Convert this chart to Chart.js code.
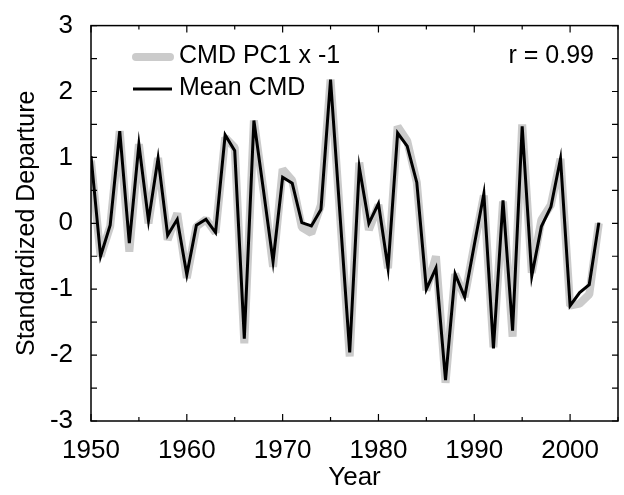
<!DOCTYPE html>
<html>
<head>
<meta charset="utf-8">
<script src="https://cdn.jsdelivr.net/npm/chart.js@4.4.1/dist/chart.umd.min.js"></script>
<style>
    html, body { margin: 0; padding: 0; background: #fff; }
    #wrap { width: 624px; height: 495px; }
</style>
</head>
<body>
<div id="wrap"><canvas id="grafico"></canvas></div>
<script>
const years = [1950, 1951, 1952, 1953, 1954, 1955, 1956, 1957, 1958, 1959,
               1960, 1961, 1962, 1963, 1964, 1965, 1966, 1967, 1968, 1969,
               1970, 1971, 1972, 1973, 1974, 1975, 1976, 1977, 1978, 1979,
               1980, 1981, 1982, 1983, 1984, 1985, 1986, 1987, 1988, 1989,
               1990, 1991, 1992, 1993, 1994, 1995, 1996, 1997, 1998, 1999,
               2000, 2001, 2002, 2003];

const meanCMD = [1.02, -0.50, -0.03, 1.40, -0.30, 1.20, 0.04, 0.99, -0.18, 0.06,
                 -0.78, -0.03, 0.06, -0.14, 1.34, 1.10, -1.75, 1.56, 0.50, -0.58,
                 0.70, 0.61, 0.01, -0.04, 0.21, 2.18, 0.10, -1.96, 0.85, 0.00,
                 0.30, -0.68, 1.37, 1.17, 0.62, -1.00, -0.68, -2.38, -0.77, -1.12,
                 -0.33, 0.45, -1.90, 0.35, -1.63, 1.47, -0.80, -0.05, 0.25, 0.98,
                 -1.25, -1.05, -0.93, 0.01];

const pc1x1 = [0.95, -0.50, -0.05, 1.40, -0.43, 1.20, 0.00, 0.99, -0.25, 0.15,
               -0.83, -0.05, 0.06, -0.14, 1.30, 1.15, -1.82, 1.56, 0.50, -0.66,
               0.82, 0.65, -0.06, -0.15, 0.28, 2.18, 0.10, -2.02, 0.92, -0.10,
               0.28, -0.68, 1.47, 1.25, 0.62, -1.02, -0.50, -2.42, -0.77, -1.12,
               -0.33, 0.42, -1.88, 0.33, -1.72, 1.50, -0.75, 0.05, 0.28, 0.98,
               -1.25, -1.22, -1.08, 0.00];

const xLabels = [1950, 1960, 1970, 1980, 1990, 2000];
const yLabels = [-3, -2, -1, 0, 1, 2, 3];

const fonte = "'Liberation Sans', Arial, sans-serif";

// ticks pointing inward on all four sides, plus the closing frame
const moldura = {
    id: 'moldura',
    afterDraw(chart) {
        const ctx = chart.ctx;
        const a = chart.chartArea;
        const sx = chart.scales.x;
        const sy = chart.scales.y;
        ctx.save();
        ctx.strokeStyle = '#000';
        ctx.lineWidth = 1.5;
        ctx.strokeRect(a.left, a.top, a.right - a.left, a.bottom - a.top);
        ctx.lineWidth = 1.2;
        ctx.beginPath();
        sy.ticks.forEach(t => {
            const y = sy.getPixelForValue(t.value);
            ctx.moveTo(a.left, y); ctx.lineTo(a.left + 6, y);
            ctx.moveTo(a.right, y); ctx.lineTo(a.right - 6, y);
        });
        sx.ticks.forEach(t => {
            const x = sx.getPixelForValue(t.value);
            const len = xLabels.includes(t.value) ? 7 : 4;
            ctx.moveTo(x, a.bottom); ctx.lineTo(x, a.bottom - len);
            ctx.moveTo(x, a.top); ctx.lineTo(x, a.top + len);
        });
        ctx.stroke();

        // legend and correlation text
        ctx.font = '25px ' + fonte;
        ctx.textBaseline = 'middle';
        ctx.lineCap = 'round';
        ctx.strokeStyle = '#cbcbcb';
        ctx.lineWidth = 8;
        ctx.beginPath(); ctx.moveTo(a.left + 45, 57); ctx.lineTo(a.left + 79, 57); ctx.stroke();
        ctx.strokeStyle = '#000';
        ctx.lineWidth = 3;
        ctx.lineCap = 'butt';
        ctx.beginPath(); ctx.moveTo(a.left + 42, 89); ctx.lineTo(a.left + 81, 89); ctx.stroke();
        ctx.fillStyle = '#000';
        ctx.textAlign = 'left';
        ctx.fillText('CMD PC1 x -1', a.left + 88, 56);
        ctx.fillText('Mean CMD', a.left + 88, 88);
        ctx.textAlign = 'right';
        ctx.fillText('r = 0.99', a.right - 24, 56);
        ctx.restore();
    }
};

new Chart(document.getElementById('grafico'), {
    type: 'line',
    data: {
        datasets: [
            {
                label: 'Mean CMD',
                data: years.map((ano, i) => ({ x: ano, y: meanCMD[i] })),
                borderColor: '#000',
                borderWidth: 3,
                borderJoinStyle: 'miter',
                pointRadius: 0,
                tension: 0,
                order: 0,
            },
            {
                label: 'CMD PC1 x -1',
                data: years.map((ano, i) => ({ x: ano, y: pc1x1[i] })),
                borderColor: '#cbcbcb',
                borderWidth: 8,
                borderJoinStyle: 'bevel',
                pointRadius: 0,
                tension: 0,
                order: 1,
            }
        ]
    },
    options: {
        responsive: true,
        maintainAspectRatio: false,
        animation: false,
        layout: { padding: { top: 21, right: 1, left: 0, bottom: 0 } },
        plugins: {
            legend: { display: false },
            tooltip: { enabled: false },
        },
        scales: {
            x: {
                type: 'linear',
                min: 1950,
                max: 2005,
                afterFit: s => { s.height = 74; },
                grid: { display: false },
                border: { display: false },
                ticks: {
                    stepSize: 5,
                    padding: 6,
                    autoSkip: false,
                    maxRotation: 0,
                    color: '#000',
                    font: { family: fonte, size: 26 },
                    callback: v => xLabels.includes(v) ? String(v) : '',
                },
                title: {
                    display: true,
                    text: 'Year',
                    color: '#000',
                    padding: { top: 0, bottom: 2 },
                    font: { family: fonte, size: 26 },
                },
            },
            y: {
                min: -3,
                max: 3,
                afterFit: s => { s.width = 91; },
                grid: { display: false },
                border: { display: false },
                ticks: {
                    stepSize: 0.5,
                    padding: 10,
                    autoSkip: false,
                    color: '#000',
                    font: { family: fonte, size: 26 },
                    callback: v => yLabels.includes(v) ? String(v) : '',
                },
                title: {
                    display: true,
                    text: 'Standardized Departure',
                    color: '#000',
                    padding: { top: 12, bottom: 0 },
                    font: { family: fonte, size: 25 },
                },
            }
        }
    },
    plugins: [moldura]
});
</script>
</body>
</html>
